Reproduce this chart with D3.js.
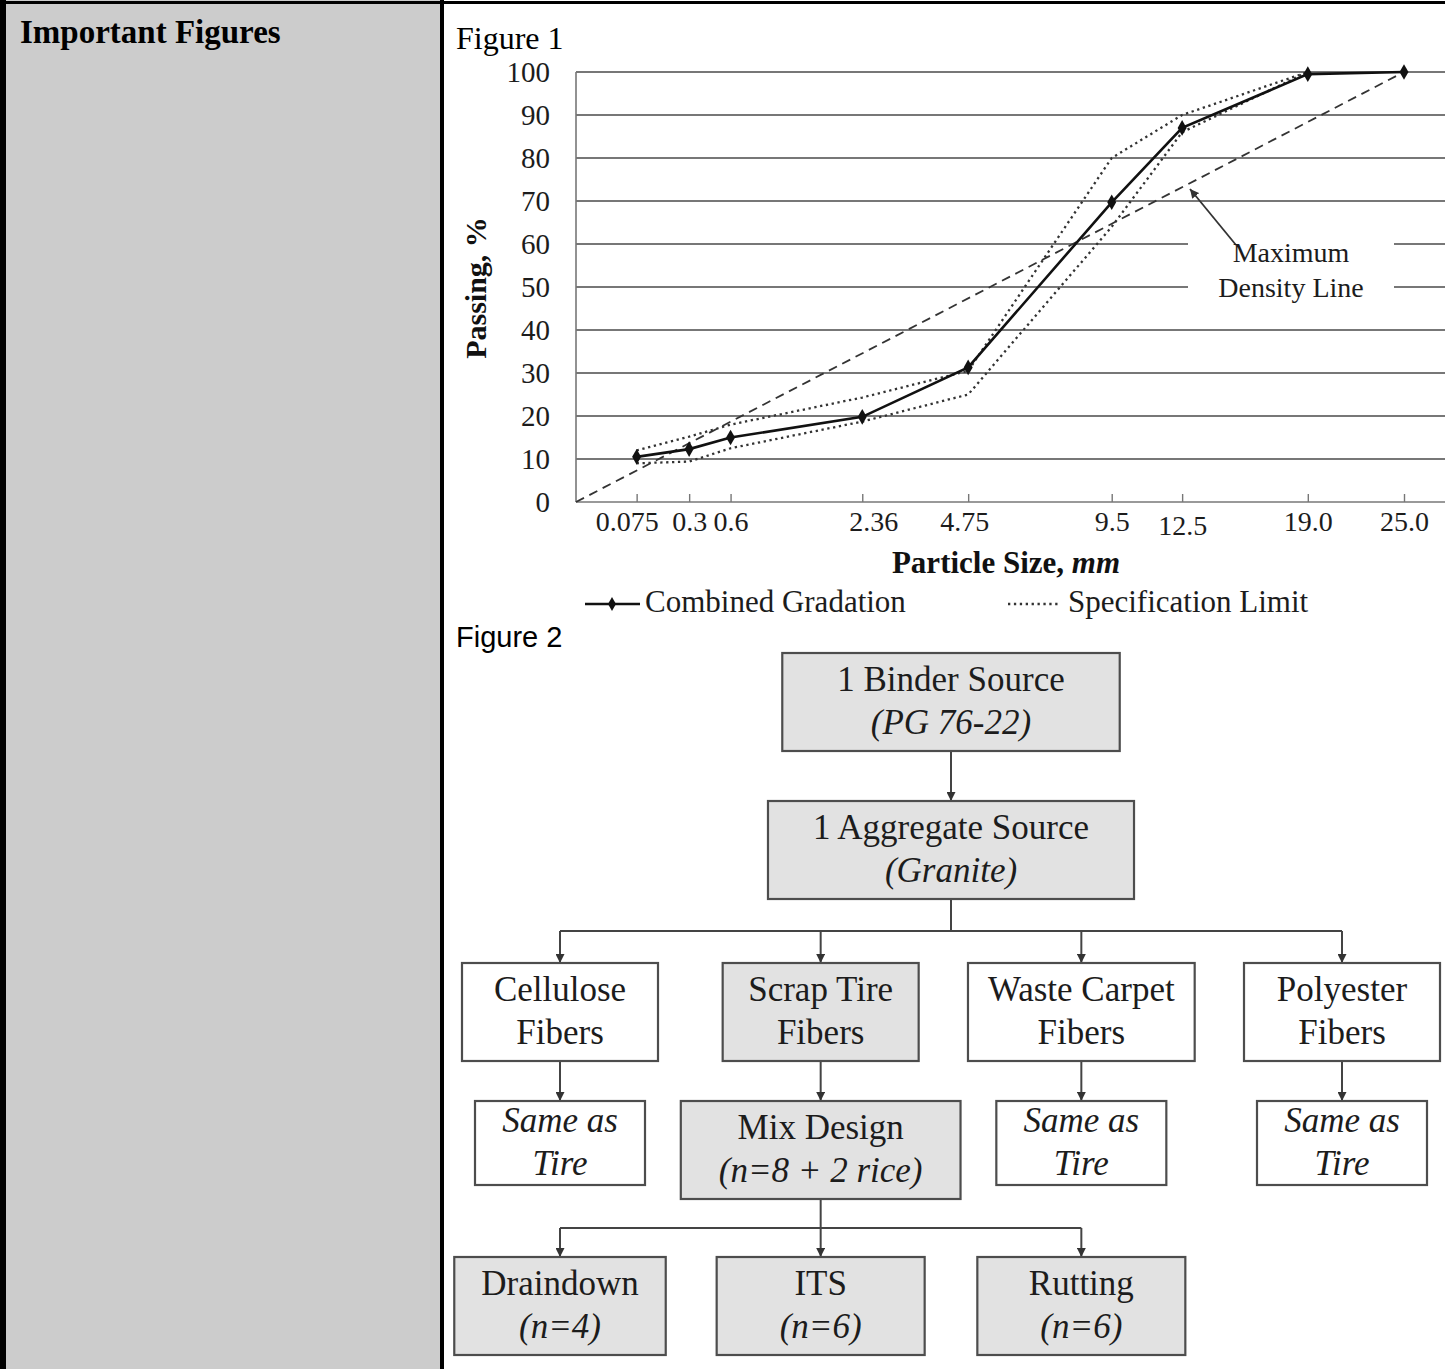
<!DOCTYPE html>
<html>
<head>
<meta charset="utf-8">
<script src="https://cdn.jsdelivr.net/npm/d3@7"></script>
<style>
  body { margin: 0; background: #fff; }
  svg { display: block; }
  text { font-family: "Liberation Serif", "Times New Roman", serif; fill: #1c1c1c; }
</style>
</head>
<body>
<div id="viz"></div>
<script>
// ---- Figure 1 data (sieve size in mm, percent passing) ----
var sieveSizes = [0.075, 0.3, 0.6, 2.36, 4.75, 9.5, 12.5, 19.0, 25.0];
var sieveLabels = ['0.075', '0.3', '0.6', '2.36', '4.75', '9.5', '12.5', '19.0', '25.0'];
var combinedPassing = [10.5, 12.3, 15.0, 19.8, 31.3, 69.7, 87.0, 99.5, 100];
var specUpper = [12, 15.2, 18, 24.3, 30.5, 80, 90, 100];
var specLower = [9, 9.4, 12.5, 18.7, 25, 64, 86, 100];
var maxDensitySizes = [0, 25.0];
var maxDensityPassing = [0, 100];
var passingTicks = [0, 10, 20, 30, 40, 50, 60, 70, 80, 90, 100];

// ---- Figure 2 data (flow chart) ----
var flowNodes = [
    { id: 'binder', row: 0, col: 1.5, studied: true, lines: ['1 Binder Source', '(PG 76-22)'] },
    { id: 'aggregate', row: 1, col: 1.5, studied: true, lines: ['1 Aggregate Source', '(Granite)'] },
    { id: 'cellulose', row: 2, col: 0, studied: false, lines: ['Cellulose', 'Fibers'] },
    { id: 'tire', row: 2, col: 1, studied: true, lines: ['Scrap Tire', 'Fibers'] },
    { id: 'carpet', row: 2, col: 2, studied: false, lines: ['Waste Carpet', 'Fibers'] },
    { id: 'polyester', row: 2, col: 3, studied: false, lines: ['Polyester', 'Fibers'] },
    { id: 'same1', row: 3, col: 0, studied: false, note: true, lines: ['Same as', 'Tire'] },
    { id: 'mix', row: 3, col: 1, studied: true, lines: ['Mix Design', '(n=8 + 2 rice)'] },
    { id: 'same2', row: 3, col: 2, studied: false, note: true, lines: ['Same as', 'Tire'] },
    { id: 'same3', row: 3, col: 3, studied: false, note: true, lines: ['Same as', 'Tire'] },
    { id: 'draindown', row: 4, col: 0, studied: true, lines: ['Draindown', '(n=4)'] },
    { id: 'its', row: 4, col: 1, studied: true, lines: ['ITS', '(n=6)'] },
    { id: 'rutting', row: 4, col: 2, studied: true, lines: ['Rutting', '(n=6)'] }
];
var flowLinks = [
    ['binder', 'aggregate'],
    ['aggregate', 'cellulose'], ['aggregate', 'tire'], ['aggregate', 'carpet'], ['aggregate', 'polyester'],
    ['cellulose', 'same1'], ['tire', 'mix'], ['carpet', 'same2'], ['polyester', 'same3'],
    ['mix', 'draindown'], ['mix', 'its'], ['mix', 'rutting']
];

var width = 1445;
var height = 1369;

var svg = d3.select('#viz')
    .append('svg')
    .attr('width', width)
    .attr('height', height);

// ---- table frame ----
svg.append('rect').attr('x', 0).attr('y', 0).attr('width', 441).attr('height', height).attr('fill', '#cccccc');
svg.append('rect').attr('x', 0).attr('y', 0).attr('width', 6).attr('height', height).attr('fill', '#000');
svg.append('rect').attr('x', 440).attr('y', 0).attr('width', 4).attr('height', height).attr('fill', '#000');
svg.append('rect').attr('x', 0).attr('y', 1).attr('width', width).attr('height', 3).attr('fill', '#000');

svg.append('text')
    .attr('x', 20).attr('y', 43)
    .style('font-size', '33px').style('font-weight', 'bold').style('fill', '#000')
    .text('Important Figures');

svg.append('text')
    .attr('x', 456).attr('y', 49)
    .style('font-size', '32px').style('fill', '#000')
    .text('Figure 1');

// ---- Figure 1: gradation chart ----
var x = d3.scalePow().exponent(0.45).domain([0, 25]).range([576, 1404]);
var y = d3.scaleLinear().domain([0, 100]).range([502, 72]);
var plotRight = width;

// hand placed label nudges, as in the original figure
var tickLabelNudge = { '0.075': [-10, 0], '2.36': [11, 0], '4.75': [-4, 0], '12.5': [0, 4] };

var chart = svg.append('g');

chart.selectAll('.grid')
    .data(passingTicks)
    .enter().append('line')
    .attr('class', 'grid')
    .attr('x1', x(0)).attr('x2', plotRight)
    .attr('y1', function (d) { return y(d); })
    .attr('y2', function (d) { return y(d); })
    .attr('stroke', function (d) { return d === 0 ? '#777' : '#4a4a4a'; })
    .attr('stroke-width', 1.6);

chart.append('line')
    .attr('x1', x(0)).attr('x2', x(0))
    .attr('y1', y(100)).attr('y2', y(0))
    .attr('stroke', '#777').attr('stroke-width', 1.6);

// blank patch behind the annotation text
chart.append('rect')
    .attr('x', 1188).attr('y', 232).attr('width', 206).attr('height', 70)
    .attr('fill', '#fff');

var xAxis = d3.axisBottom(x)
    .tickValues(sieveSizes)
    .tickFormat(function (d, i) { return sieveLabels[i]; })
    .tickSizeInner(-8).tickSizeOuter(0).tickPadding(9);

var gx = chart.append('g')
    .attr('transform', 'translate(0,' + y(0) + ')')
    .call(xAxis);
gx.select('.domain').remove();
gx.selectAll('.tick line').attr('stroke', '#777').attr('stroke-width', 1.4);
gx.selectAll('.tick text')
    .style('font-family', '"Liberation Serif", serif')
    .style('font-size', '28px').attr('fill', '#222')
    .attr('dx', function (d, i) { var n = tickLabelNudge[sieveLabels[i]]; return n ? n[0] : 0; })
    .attr('transform', function (d, i) {
        var n = tickLabelNudge[sieveLabels[i]];
        return n ? 'translate(0,' + n[1] + ')' : null;
    });

var yAxis = d3.axisLeft(y)
    .tickValues(passingTicks)
    .tickSize(0).tickPadding(26);

var gy = chart.append('g')
    .attr('transform', 'translate(' + x(0) + ',0)')
    .call(yAxis);
gy.select('.domain').remove();
gy.selectAll('.tick text')
    .style('font-family', '"Liberation Serif", serif')
    .style('font-size', '29px').attr('fill', '#222');

var line = d3.line()
    .x(function (d) { return x(d[0]); })
    .y(function (d) { return y(d[1]); });

function pairs(xs, ys) {
    return ys.map(function (v, i) { return [xs[i], v]; });
}

chart.append('path')
    .datum(pairs(maxDensitySizes, maxDensityPassing))
    .attr('d', line)
    .attr('fill', 'none').attr('stroke', '#333')
    .attr('stroke-width', 1.8).attr('stroke-dasharray', '9,6');

[specUpper, specLower].forEach(function (s) {
    chart.append('path')
        .datum(pairs(sieveSizes, s))
        .attr('d', line)
        .attr('fill', 'none').attr('stroke', '#333')
        .attr('stroke-width', 2.3).attr('stroke-dasharray', '2.3,3.6');
});

var combined = pairs(sieveSizes, combinedPassing);
chart.append('path')
    .datum(combined)
    .attr('d', line)
    .attr('fill', 'none').attr('stroke', '#111').attr('stroke-width', 2.6);

var diamond = d3.symbol().type(d3.symbolDiamond).size(70);
chart.selectAll('.pt')
    .data(combined)
    .enter().append('path')
    .attr('class', 'pt')
    .attr('d', diamond)
    .attr('transform', function (d) { return 'translate(' + x(d[0]) + ',' + y(d[1]) + ')'; })
    .attr('fill', '#111');

// annotation
var defs = svg.append('defs');
defs.append('marker')
    .attr('id', 'arrow')
    .attr('viewBox', '0 0 10 10')
    .attr('refX', 10).attr('refY', 5)
    .attr('markerWidth', 9).attr('markerHeight', 9)
    .attr('markerUnits', 'userSpaceOnUse')
    .attr('orient', 'auto')
    .append('path')
    .attr('d', 'M0,0 L10,5 L0,10 z')
    .attr('fill', '#333');

chart.append('line')
    .attr('x1', 1236).attr('y1', 245)
    .attr('x2', 1190).attr('y2', 189)
    .attr('stroke', '#333').attr('stroke-width', 1.8)
    .attr('marker-end', 'url(#arrow)');

chart.append('text').attr('x', 1291).attr('y', 262)
    .attr('text-anchor', 'middle').style('font-size', '28px').attr('fill', '#222')
    .text('Maximum');
chart.append('text').attr('x', 1291).attr('y', 297)
    .attr('text-anchor', 'middle').style('font-size', '28px').attr('fill', '#222')
    .text('Density Line');

// axis titles
var xTitle = chart.append('text')
    .attr('x', 1006).attr('y', 573)
    .attr('text-anchor', 'middle')
    .style('font-size', '31px').style('font-weight', 'bold').style('fill', '#111');
xTitle.append('tspan').text('Particle Size, ');
xTitle.append('tspan').style('font-style', 'italic').text('mm');

chart.append('text')
    .attr('transform', 'translate(486,288) rotate(-90)')
    .attr('text-anchor', 'middle')
    .style('font-size', '30px').style('font-weight', 'bold').style('fill', '#111')
    .text('Passing, %');

// legend
var legend = chart.append('g');
legend.append('line')
    .attr('x1', 585).attr('x2', 640).attr('y1', 604).attr('y2', 604)
    .attr('stroke', '#111').attr('stroke-width', 2.6);
legend.append('path')
    .attr('d', d3.symbol().type(d3.symbolDiamond).size(55))
    .attr('transform', 'translate(612,604)')
    .attr('fill', '#111');
legend.append('text')
    .attr('x', 645).attr('y', 612)
    .style('font-size', '31px').attr('fill', '#222')
    .text('Combined Gradation');
legend.append('line')
    .attr('x1', 1008).attr('x2', 1058).attr('y1', 604).attr('y2', 604)
    .attr('stroke', '#333').attr('stroke-width', 2.3).attr('stroke-dasharray', '2.3,3.6');
legend.append('text')
    .attr('x', 1068).attr('y', 612)
    .style('font-size', '31px').attr('fill', '#222')
    .text('Specification Limit');

// ---- Figure 2: flow chart ----
svg.append('text')
    .attr('x', 456).attr('y', 647)
    .style('font-family', '"Liberation Sans", Arial, sans-serif')
    .style('font-size', '29px').style('fill', '#000')
    .text('Figure 2');

var colX = d3.scaleLinear().domain([0, 3]).range([560, 1342]);
var rowTop = [653, 801, 963, 1101, 1257];
var rowPad = [55, 45, 20, 38, 27];
var rowMin = [0, 0, 196, 170, 208];
var notePad = 27;
var boxH = 98;
var noteH = 84;

var byId = {};
flowNodes.forEach(function (n) {
    n.cx = colX(n.col);
    n.top = rowTop[n.row];
    n.h = n.note ? noteH : boxH;
    n.bottom = n.top + n.h;
    byId[n.id] = n;
});

var flow = svg.append('g');
var linkLayer = flow.append('g');
var nodeLayer = flow.append('g');

var node = nodeLayer.selectAll('.node')
    .data(flowNodes)
    .enter().append('g')
    .attr('class', 'node');

node.each(function (d) {
    var g = d3.select(this);
    var cy = d.top + d.h / 2;
    var texts = d.lines.map(function (s, i) {
        var italic = d.note || s.charAt(0) === '(';
        return g.append('text')
            .attr('x', d.cx)
            .attr('y', cy + (i === 0 ? -11 : 32))
            .attr('text-anchor', 'middle')
            .style('font-size', '35px')
            .style('font-style', italic ? 'italic' : 'normal')
            .attr('fill', '#2a2a2a')
            .text(s);
    });
    var tw = d3.max(texts, function (t) { return t.node().getComputedTextLength(); });
    var pad = d.note ? notePad : rowPad[d.row];
    d.w = Math.max(rowMin[d.row], tw + 2 * pad);
    g.insert('rect', 'text')
        .attr('x', d.cx - d.w / 2)
        .attr('y', d.top)
        .attr('width', d.w)
        .attr('height', d.h)
        .attr('fill', d.studied ? '#e2e2e2' : '#fff')
        .attr('stroke', '#4d4d4d')
        .attr('stroke-width', 2.2);
});

// connectors: single child gets a straight arrow, several children share a bus line
var children = d3.group(flowLinks, function (l) { return l[0]; });
children.forEach(function (links, parentId) {
    var p = byId[parentId];
    var kids = links.map(function (l) { return byId[l[1]]; });
    if (kids.length === 1) {
        linkLayer.append('line')
            .attr('x1', kids[0].cx).attr('x2', kids[0].cx)
            .attr('y1', p.bottom).attr('y2', kids[0].top)
            .attr('stroke', '#444').attr('stroke-width', 2)
            .attr('marker-end', 'url(#arrow)');
        return;
    }
    var busY = (p.bottom + kids[0].top) / 2;
    linkLayer.append('line')
        .attr('x1', p.cx).attr('x2', p.cx)
        .attr('y1', p.bottom).attr('y2', busY)
        .attr('stroke', '#444').attr('stroke-width', 2);
    linkLayer.append('line')
        .attr('x1', d3.min(kids, function (k) { return k.cx; }))
        .attr('x2', d3.max(kids, function (k) { return k.cx; }))
        .attr('y1', busY).attr('y2', busY)
        .attr('stroke', '#444').attr('stroke-width', 2);
    kids.forEach(function (k) {
        linkLayer.append('line')
            .attr('x1', k.cx).attr('x2', k.cx)
            .attr('y1', busY).attr('y2', k.top)
            .attr('stroke', '#444').attr('stroke-width', 2)
            .attr('marker-end', 'url(#arrow)');
    });
});
</script>
</body>
</html>
